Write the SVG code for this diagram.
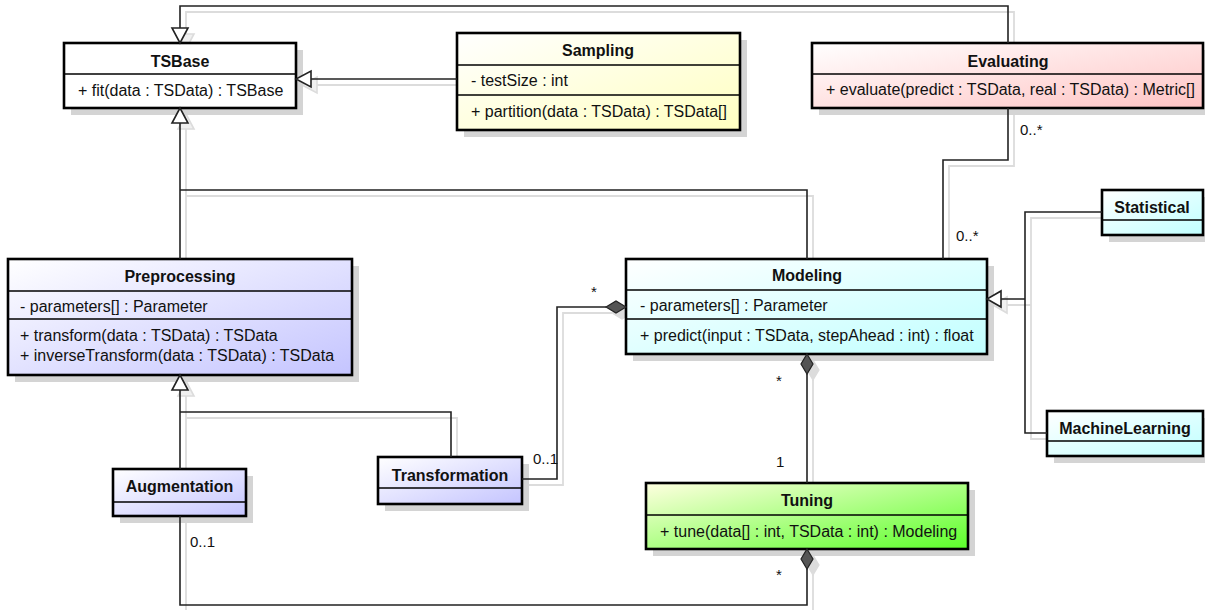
<svg xmlns="http://www.w3.org/2000/svg" width="1205" height="610" viewBox="0 0 1205 610">
<defs>
<linearGradient id="gWhite" x1="0" y1="0" x2="1" y2="1"><stop offset="0" stop-color="#ffffff"/><stop offset="1" stop-color="#ffffff"/></linearGradient>
<linearGradient id="gYellow" x1="0" y1="0" x2="1" y2="1"><stop offset="0" stop-color="#ffffff"/><stop offset="1" stop-color="#ffffc0"/></linearGradient>
<linearGradient id="gPink" x1="0" y1="0" x2="1" y2="1"><stop offset="0" stop-color="#ffffff"/><stop offset="1" stop-color="#ffc4c4"/></linearGradient>
<linearGradient id="gLav" x1="0" y1="0" x2="1" y2="1"><stop offset="0" stop-color="#ffffff"/><stop offset="1" stop-color="#c4c4ff"/></linearGradient>
<linearGradient id="gCyan" x1="0" y1="0" x2="1" y2="1"><stop offset="0" stop-color="#ffffff"/><stop offset="1" stop-color="#c0ffff"/></linearGradient>
<linearGradient id="gGreen" x1="0" y1="0" x2="1" y2="1"><stop offset="0" stop-color="#ffffe0"/><stop offset="1" stop-color="#5cff2a"/></linearGradient>
<style>
.box{stroke:#000;stroke-width:2.6}
.shadow{fill:#d4d4d4}
.div{stroke:#000;stroke-width:1.3}
.title{font-family:"Liberation Sans",Arial,sans-serif;font-size:16px;font-weight:bold;text-anchor:middle;fill:#111}
.txt{font-family:"Liberation Sans",Arial,sans-serif;font-size:16px;fill:#111}
.lbl{font-family:"Liberation Sans",Arial,sans-serif;font-size:15px;fill:#111}
.conn{fill:none;stroke:#222;stroke-width:1.6}
.cshadow{fill:none;stroke:#dcdcdc;stroke-width:1.8}
.tri{fill:#fff;stroke:#222;stroke-width:1.6}
.trish{fill:#f0f0f0;stroke:#dcdcdc;stroke-width:1.6}
.dia{fill:#555;stroke:#222;stroke-width:1.2}
.diash{fill:#dcdcdc;stroke:#dcdcdc;stroke-width:1.2}
</style>
</defs>
<rect width="1205" height="610" fill="#fff"/>

<g id="connector-shadows" transform="translate(6,6)">
<path class="cshadow" d="M1008,43 V6 H180 V28"/>
<polygon class="trish" points="172,28 188,28 180,43"/>
<path class="cshadow" d="M457,79 H311"/>
<polygon class="trish" points="311,71 311,87 296,79"/>
<path class="cshadow" d="M180,259 V123"/>
<polygon class="trish" points="172,123 188,123 180,108"/>
<path class="cshadow" d="M807,259 V190 H180"/>
<path class="cshadow" d="M1008,108 V160 H943 V259"/>
<path class="cshadow" d="M1102,212 H1025 V433 H1047 M1025,299 H1001"/>
<polygon class="trish" points="1001,291 1001,307 987,299"/>
<path class="cshadow" d="M180,469 V390"/>
<polygon class="trish" points="172,390 188,390 180,375"/>
<path class="cshadow" d="M451,457 V412 H180"/>
<path class="cshadow" d="M522,479 H557 V307 H606"/>
<polygon class="diash" points="606,307 616,301 626,307 616,313"/>
<path class="cshadow" d="M807,374 V483"/>
<polygon class="diash" points="807,354 813,364 807,374 801,364"/>
<path class="cshadow" d="M807,569 V605 H180 V516"/>
<polygon class="diash" points="807,549 813,559 807,569 801,559"/>
</g>

<g id="TSBase">
<rect class="shadow" x="71" y="50" width="232" height="65"/>
<rect class="box" x="64" y="43" width="232" height="65" fill="url(#gWhite)"/>
<line class="div" x1="64" y1="74" x2="296" y2="74"/>
<text class="title" x="180" y="67">TSBase</text>
<text class="txt" x="78" y="96">+ fit(data : TSData) : TSBase</text>
</g>

<g id="Sampling">
<rect class="shadow" x="464" y="40" width="283" height="97"/>
<rect class="box" x="457" y="33" width="283" height="97" fill="url(#gYellow)"/>
<line class="div" x1="457" y1="65" x2="740" y2="65"/>
<line class="div" x1="457" y1="95" x2="740" y2="95"/>
<text class="title" x="598" y="56">Sampling</text>
<text class="txt" x="471" y="86">- testSize : int</text>
<text class="txt" x="471" y="117">+ partition(data : TSData) : TSData[]</text>
</g>

<g id="Evaluating">
<rect class="shadow" x="819" y="50" width="391" height="65"/>
<rect class="box" x="812" y="43" width="391" height="65" fill="url(#gPink)"/>
<line class="div" x1="812" y1="74" x2="1203" y2="74"/>
<text class="title" x="1008" y="67">Evaluating</text>
<text class="txt" x="826" y="95">+ evaluate(predict : TSData, real : TSData) : Metric[]</text>
</g>

<g id="Preprocessing">
<rect class="shadow" x="15" y="266" width="344" height="116"/>
<rect class="box" x="8" y="259" width="344" height="116" fill="url(#gLav)"/>
<line class="div" x1="8" y1="291" x2="352" y2="291"/>
<line class="div" x1="8" y1="319" x2="352" y2="319"/>
<text class="title" x="180" y="282">Preprocessing</text>
<text class="txt" x="20" y="312">- parameters[] : Parameter</text>
<text class="txt" x="20" y="341">+ transform(data : TSData) : TSData</text>
<text class="txt" x="20" y="361">+ inverseTransform(data : TSData) : TSData</text>
</g>

<g id="Modeling">
<rect class="shadow" x="633" y="266" width="361" height="95"/>
<rect class="box" x="626" y="259" width="361" height="95" fill="url(#gCyan)"/>
<line class="div" x1="626" y1="290" x2="987" y2="290"/>
<line class="div" x1="626" y1="319" x2="987" y2="319"/>
<text class="title" x="807" y="281">Modeling</text>
<text class="txt" x="640" y="311">- parameters[] : Parameter</text>
<text class="txt" x="640" y="341">+ predict(input : TSData, stepAhead : int) : float</text>
</g>

<g id="Statistical">
<rect class="shadow" x="1109" y="197" width="101" height="45"/>
<rect class="box" x="1102" y="190" width="101" height="45" fill="url(#gCyan)"/>
<line class="div" x1="1102" y1="220" x2="1203" y2="220"/>
<text class="title" x="1152" y="213">Statistical</text>
</g>

<g id="MachineLearning">
<rect class="shadow" x="1054" y="418" width="157" height="45"/>
<rect class="box" x="1047" y="411" width="156" height="45" fill="url(#gCyan)"/>
<line class="div" x1="1047" y1="441" x2="1203" y2="441"/>
<text class="title" x="1125" y="434">MachineLearning</text>
</g>

<g id="Augmentation">
<rect class="shadow" x="120" y="476" width="133" height="47"/>
<rect class="box" x="113" y="469" width="133" height="47" fill="url(#gLav)"/>
<line class="div" x1="113" y1="502" x2="246" y2="502"/>
<text class="title" x="179.5" y="492">Augmentation</text>
</g>

<g id="Transformation">
<rect class="shadow" x="385" y="464" width="144" height="47"/>
<rect class="box" x="378" y="457" width="144" height="47" fill="url(#gLav)"/>
<line class="div" x1="378" y1="488" x2="522" y2="488"/>
<text class="title" x="450" y="481">Transformation</text>
</g>

<g id="Tuning">
<rect class="shadow" x="653" y="490" width="322" height="66"/>
<rect class="box" x="646" y="483" width="322" height="66" fill="url(#gGreen)"/>
<line class="div" x1="646" y1="515" x2="968" y2="515"/>
<text class="title" x="807" y="506">Tuning</text>
<text class="txt" x="660" y="537">+ tune(data[] : int, TSData : int) : Modeling</text>
</g>

<g id="connectors">
<path class="conn" d="M1008,43 V6 H180 V28"/>
<polygon class="tri" points="172,28 188,28 180,43"/>
<path class="conn" d="M457,79 H311"/>
<polygon class="tri" points="311,71 311,87 296,79"/>
<path class="conn" d="M180,259 V123"/>
<polygon class="tri" points="172,123 188,123 180,108"/>
<path class="conn" d="M807,259 V190 H180"/>
<path class="conn" d="M1008,108 V160 H943 V259"/>
<path class="conn" d="M1102,212 H1025 V433 H1047 M1025,299 H1001"/>
<polygon class="tri" points="1001,291 1001,307 987,299"/>
<path class="conn" d="M180,469 V390"/>
<polygon class="tri" points="172,390 188,390 180,375"/>
<path class="conn" d="M451,457 V412 H180"/>
<path class="conn" d="M522,479 H557 V307 H606"/>
<polygon class="dia" points="606,307 616,301 626,307 616,313"/>
<path class="conn" d="M807,374 V483"/>
<polygon class="dia" points="807,354 813,364 807,374 801,364"/>
<path class="conn" d="M807,569 V605 H180 V516"/>
<polygon class="dia" points="807,549 813,559 807,569 801,559"/>
<text class="lbl" x="1020" y="135">0..*</text>
<text class="lbl" x="956" y="241">0..*</text>
<text class="lbl" x="591" y="297">*</text>
<text class="lbl" x="533" y="464">0..1</text>
<text class="lbl" x="776" y="386">*</text>
<text class="lbl" x="776" y="467">1</text>
<text class="lbl" x="776" y="580">*</text>
<text class="lbl" x="190" y="547">0..1</text>
</g>
</svg>
